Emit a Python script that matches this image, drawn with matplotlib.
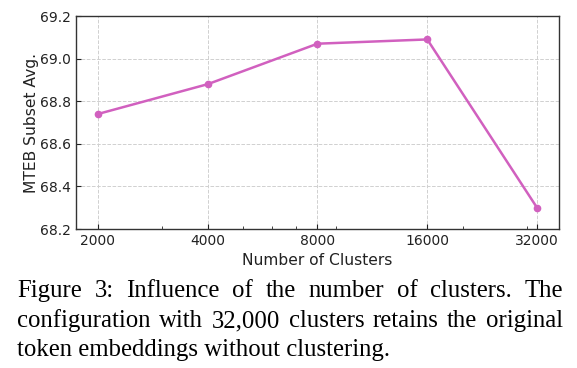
import numpy as np
import matplotlib
matplotlib.use("Agg")
import matplotlib.pyplot as plt

# data
clusters = [2000, 4000, 8000, 16000, 32000]
scores = [68.74, 68.88, 69.07, 69.09, 68.30]
yticks = [68.2, 68.4, 68.6, 68.8, 69.0, 69.2]

caption_lines = [
    "Figure 3:  Influence of the number of clusters.  The",
    "configuration with 32,000 clusters retains the original",
    "token embeddings without clustering.",
]

fig = plt.figure(figsize=(5.77, 3.68), dpi=100)
ax = fig.add_axes([0.1317, 0.3777, 0.8371, 0.5788])

ax.plot(clusters, scores, color="#d160bf", lw=1.8, marker="o", ms=4.5)
ax.set_xscale("log")
ax.set_xticks(clusters)
ax.set_xticklabels([str(c) for c in clusters])
ax.set_ylim(68.2, 69.2)
ax.set_yticks(yticks)
ax.set_yticklabels([f"{t:.1f}" for t in yticks])

ax.grid(True, which="major", ls="--", lw=0.7, color="#d0d0d0")
ax.tick_params(which="both", direction="in", labelsize=10, colors="#222222")
ax.tick_params(which="minor", length=2)
for s in ax.spines.values():
    s.set_color("#333333")
    s.set_linewidth(1.0)

ax.set_xlabel("Number of Clusters", fontsize=11.2, color="#222222", labelpad=3.5)
ax.set_ylabel("MTEB Subset Avg.", fontsize=11.2, color="#222222", labelpad=0.5)

# justified caption in a serif font
fig.canvas.draw()
renderer = fig.canvas.get_renderer()
x0, x1 = 17 / 577, 563 / 577
ys = [1 - 297 / 368, 1 - 327 / 368, 1 - 356 / 368]
fs = 17.8
for i, (line, y) in enumerate(zip(caption_lines, ys)):
    if i == len(caption_lines) - 1:
        fig.text(x0, y, line, fontsize=fs, family="Liberation Serif",
                 va="baseline", ha="left")
        continue
    words = line.split()
    widths = []
    for w in words:
        t = fig.text(0, 0, w, fontsize=fs, family="Liberation Serif")
        widths.append(t.get_window_extent(renderer).width / fig.bbox.width)
        t.remove()
    gap = (x1 - x0 - sum(widths)) / (len(words) - 1)
    x = x0
    for w, wd in zip(words, widths):
        fig.text(x, y, w, fontsize=fs, family="Liberation Serif",
                 va="baseline", ha="left")
        x += wd + gap

fig.savefig("out.png", dpi=100)
